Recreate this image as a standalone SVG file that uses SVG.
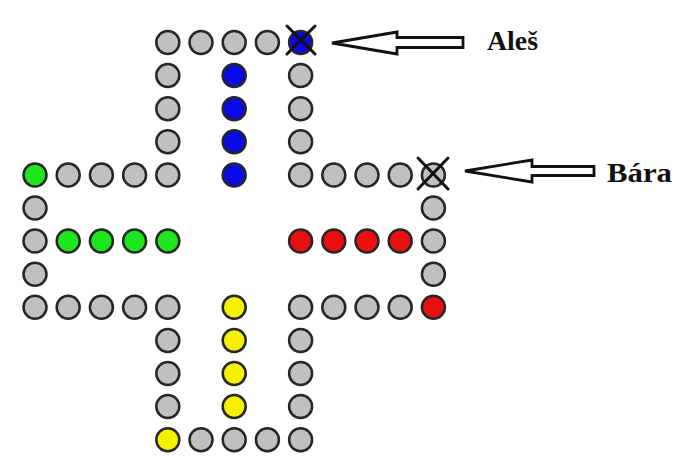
<svg xmlns="http://www.w3.org/2000/svg" width="679" height="456" viewBox="0 0 679 456">
  <style>
    circle { stroke: #262626; stroke-width: 2.5; }
    .f { fill: #c0c0c0; }
    .b { fill: #0a0ae6; }
    .g { fill: #1ee61e; }
    .r { fill: #ea1010; }
    .y { fill: #f5f000; }
    .x { stroke: #111; stroke-width: 3; stroke-linecap: round; }
    .ptr { fill: #fff; stroke: #111; stroke-width: 2.8; stroke-linejoin: miter; }
    .name { font-family: "Liberation Serif", "Times New Roman", serif; font-weight: bold; font-size: 28px; fill: #111; }
  </style>
  <rect width="679" height="456" fill="#fff"/>

  <!-- track: top arm -->
  <g id="arm-top">
    <circle class="f" cx="167.8" cy="42.5" r="11.5"/>
    <circle class="f" cx="201" cy="42.5" r="11.5"/>
    <circle class="f" cx="234.2" cy="42.5" r="11.5"/>
    <circle class="f" cx="267.4" cy="42.5" r="11.5"/>
    <circle class="b" cx="300.6" cy="42.5" r="11.5"/>
    <circle class="f" cx="167.8" cy="75.6" r="11.5"/>
    <circle class="f" cx="167.8" cy="108.7" r="11.5"/>
    <circle class="f" cx="167.8" cy="141.8" r="11.5"/>
    <circle class="f" cx="300.6" cy="75.6" r="11.5"/>
    <circle class="f" cx="300.6" cy="108.7" r="11.5"/>
    <circle class="f" cx="300.6" cy="141.8" r="11.5"/>
  </g>
  <!-- blue home -->
  <g id="home-blue">
    <circle class="b" cx="234.2" cy="75.6" r="11.5"/>
    <circle class="b" cx="234.2" cy="108.7" r="11.5"/>
    <circle class="b" cx="234.2" cy="141.8" r="11.5"/>
    <circle class="b" cx="234.2" cy="174.9" r="11.5"/>
  </g>

  <!-- track: left arm -->
  <g id="arm-left">
    <circle class="g" cx="35" cy="174.9" r="11.5"/>
    <circle class="f" cx="68.2" cy="174.9" r="11.5"/>
    <circle class="f" cx="101.4" cy="174.9" r="11.5"/>
    <circle class="f" cx="134.6" cy="174.9" r="11.5"/>
    <circle class="f" cx="167.8" cy="174.9" r="11.5"/>
    <circle class="f" cx="35" cy="208" r="11.5"/>
    <circle class="f" cx="35" cy="241.1" r="11.5"/>
    <circle class="f" cx="35" cy="274.2" r="11.5"/>
    <circle class="f" cx="35" cy="307.3" r="11.5"/>
    <circle class="f" cx="68.2" cy="307.3" r="11.5"/>
    <circle class="f" cx="101.4" cy="307.3" r="11.5"/>
    <circle class="f" cx="134.6" cy="307.3" r="11.5"/>
    <circle class="f" cx="167.8" cy="307.3" r="11.5"/>
  </g>
  <!-- green home -->
  <g id="home-green">
    <circle class="g" cx="68.2" cy="241.1" r="11.5"/>
    <circle class="g" cx="101.4" cy="241.1" r="11.5"/>
    <circle class="g" cx="134.6" cy="241.1" r="11.5"/>
    <circle class="g" cx="167.8" cy="241.1" r="11.5"/>
  </g>

  <!-- track: right arm -->
  <g id="arm-right">
    <circle class="f" cx="300.6" cy="174.9" r="11.5"/>
    <circle class="f" cx="333.8" cy="174.9" r="11.5"/>
    <circle class="f" cx="367" cy="174.9" r="11.5"/>
    <circle class="f" cx="400.2" cy="174.9" r="11.5"/>
    <circle class="f" cx="433.4" cy="174.9" r="11.5"/>
    <circle class="f" cx="433.4" cy="208" r="11.5"/>
    <circle class="f" cx="433.4" cy="241.1" r="11.5"/>
    <circle class="f" cx="433.4" cy="274.2" r="11.5"/>
    <circle class="r" cx="433.4" cy="307.3" r="11.5"/>
    <circle class="f" cx="400.2" cy="307.3" r="11.5"/>
    <circle class="f" cx="367" cy="307.3" r="11.5"/>
    <circle class="f" cx="333.8" cy="307.3" r="11.5"/>
    <circle class="f" cx="300.6" cy="307.3" r="11.5"/>
  </g>
  <!-- red home -->
  <g id="home-red">
    <circle class="r" cx="300.6" cy="241.1" r="11.5"/>
    <circle class="r" cx="333.8" cy="241.1" r="11.5"/>
    <circle class="r" cx="367" cy="241.1" r="11.5"/>
    <circle class="r" cx="400.2" cy="241.1" r="11.5"/>
  </g>

  <!-- track: bottom arm -->
  <g id="arm-bottom">
    <circle class="f" cx="167.8" cy="340.4" r="11.5"/>
    <circle class="f" cx="167.8" cy="373.5" r="11.5"/>
    <circle class="f" cx="167.8" cy="406.6" r="11.5"/>
    <circle class="y" cx="167.8" cy="439.7" r="11.5"/>
    <circle class="f" cx="201" cy="439.7" r="11.5"/>
    <circle class="f" cx="234.2" cy="439.7" r="11.5"/>
    <circle class="f" cx="267.4" cy="439.7" r="11.5"/>
    <circle class="f" cx="300.6" cy="439.7" r="11.5"/>
    <circle class="f" cx="300.6" cy="340.4" r="11.5"/>
    <circle class="f" cx="300.6" cy="373.5" r="11.5"/>
    <circle class="f" cx="300.6" cy="406.6" r="11.5"/>
  </g>
  <!-- yellow home -->
  <g id="home-yellow">
    <circle class="y" cx="234.2" cy="307.3" r="11.5"/>
    <circle class="y" cx="234.2" cy="340.4" r="11.5"/>
    <circle class="y" cx="234.2" cy="373.5" r="11.5"/>
    <circle class="y" cx="234.2" cy="406.6" r="11.5"/>
  </g>

  <!-- crossed-out fields -->
  <g id="mark-ales">
    <line class="x" x1="287" y1="26" x2="315" y2="54"/>
    <line class="x" x1="315" y1="26" x2="287" y2="54"/>
  </g>
  <g id="mark-bara">
    <line class="x" x1="418" y1="158" x2="448" y2="189"/>
    <line class="x" x1="448" y1="158" x2="418" y2="189"/>
  </g>

  <!-- hollow pointer arrows -->
  <g id="connectors">
    <polygon class="ptr" points="332,43 397,32 397,37.5 463,37.5 463,47.5 397,47.5 397,54"/>
    <polygon class="ptr" points="465,171 532,160 532,166.5 594,166.5 594,175.5 532,175.5 532,182"/>
  </g>

  <g id="label-ales"><text class="name" x="487" y="50" textLength="51" lengthAdjust="spacingAndGlyphs">Aleš</text></g>
  <g id="label-bara"><text class="name" x="607" y="182" textLength="65" lengthAdjust="spacingAndGlyphs">Bára</text></g>
</svg>
